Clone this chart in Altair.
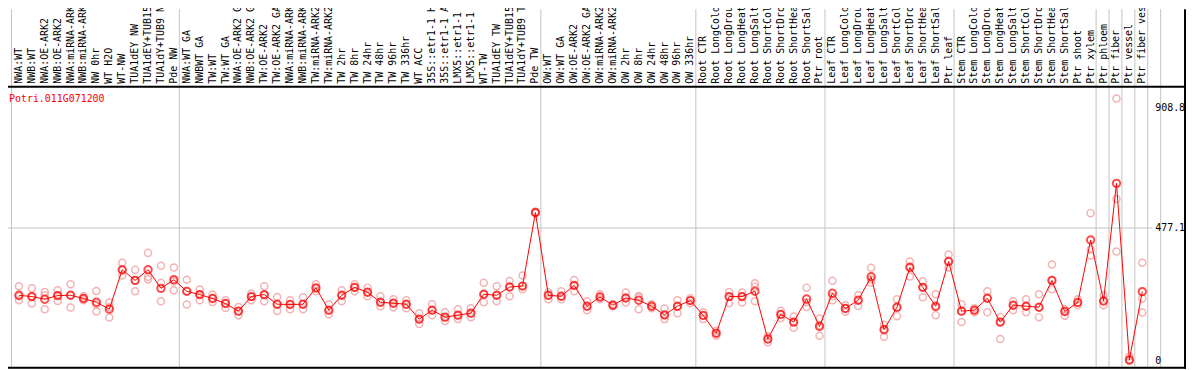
import altair as alt
import numpy as np
import pandas as pd

GENE = "Potri.011G071200"

LABELS = [
    "NWA:WT", "NWB:WT", "NWA:OE-ARK2", "NWB:OE-ARK2", "NWA:miRNA-ARK2", "NWB:miRNA-ARK2",
    "NW 0hr", "WT H2O", "WT-NW", "TUA1dEY NW", "TUA1dEY+TUB15 NW", "TUA1dY+TUB9 NW", "Pde NW",
    "NWA:WT GA", "NWBWT GA", "TW:WT", "TW:WT GA", "NWA:OE-ARK2 GA", "NWB:OE-ARK2 GA",
    "TW:OE-ARK2", "TW:OE-ARK2 GA", "NWA:miRNA-ARK2 GA", "NWB:miRNA-ARK2 GA", "TW:miRNA-ARK2",
    "TW:miRNA-ARK2 GA", "TW 2hr", "TW 8hr", "TW 24hr", "TW 48hr", "TW 96hr", "TW 336hr", "WT ACC",
    "35S::etr1-1 H2O", "35S::etr1-1 ACC", "LMX5::etr1-1 H2O", "LMX5::etr1-1 ACC", "WT-TW",
    "TUA1dEY TW", "TUA1dEY+TUB15 TW", "TUA1dY+TUB9 TW", "Pde TW",
    "OW:WT", "OW:WT GA", "OW:OE-ARK2", "OW:OE-ARK2 GA", "OW:miRNA-ARK2", "OW:miRNA-ARK2 GA",
    "OW 2hr", "OW 8hr", "OW 24hr", "OW 48hr", "OW 96hr", "OW 336hr",
    "Root CTR", "Root LongCold", "Root LongDrought", "Root LongHeat", "Root LongSalt",
    "Root ShortCold", "Root ShortDrought", "Root ShortHeat", "Root ShortSalt", "Ptr root",
    "Leaf CTR", "Leaf LongCold", "Leaf LongDrought", "Leaf LongHeat", "Leaf LongSalt",
    "Leaf ShortCold", "Leaf ShortDrought", "Leaf ShortHeat", "Leaf ShortSalt", "Ptr leaf",
    "Stem CTR", "Stem LongCold", "Stem LongDrought", "Stem LongHeat", "Stem LongSalt",
    "Stem ShortCold", "Stem ShortDrought", "Stem ShortHeat", "Stem ShortSalt", "Ptr shoot",
    "Ptr xylem", "Ptr phloem", "Ptr fiber", "Ptr vessel", "Ptr fiber vessel",
]

GROUP_SIZES = [13, 28, 12, 10, 10, 11, 1, 1, 1, 1, 1]

MEANS = [
    235.6, 230.9, 221.3, 234.5, 235.6, 223.8, 210.6, 185.6, 327.3, 289.1, 327.3, 260.5, 291.6,
    249.8, 238.1, 223.8, 205.9, 178.5, 230.9, 238.1, 203.4, 202.4, 203.4, 262.3, 182.0, 235.6,
    264.1, 246.3, 210.6, 207.0, 203.4, 149.9, 182.0, 157.0, 164.2, 171.3, 239.1, 235.6, 265.2,
    268.7, 532.9,
    235.6, 232.0, 271.2, 196.3, 229.5, 199.9, 225.9, 217.7, 196.3, 165.2, 196.3, 216.6,
    163.1, 98.9, 230.9, 230.9, 249.8, 78.5, 166.7, 139.2, 222.3, 123.8,
    242.7, 188.1, 217.7, 302.3, 111.7, 192.7, 335.5, 264.1, 196.3, 356.9,
    178.5, 182.0, 224.8, 139.2, 199.9, 196.3, 192.7, 289.1, 177.4, 209.5, 434.3,
    215.2, 637.8, 4.0, 248.8,
]

REP_A = [
    267.7, 260.5, 247.3, 253.4, 274.8, 232.0, 250.9, 209.5, 352.3, 327.3, 387.9, 341.6, 335.5,
    291.6, 255.9, 238.1, 217.7, 193.8, 241.6, 267.7, 229.5, 217.7, 228.4, 274.8, 203.4, 253.4,
    274.8, 263.0, 232.0, 221.3, 217.7, 171.3, 203.4, 174.9, 185.6, 189.2, 280.9, 267.7, 286.6,
    306.9, 536.0,
    246.3, 249.8, 290.2, 214.1, 239.1, 203.4, 245.2, 233.1, 203.4, 188.1, 217.7, 224.8,
    174.9, 107.1, 247.3, 245.2, 278.4, 88.2, 179.5, 159.5, 263.0, 152.4,
    288.0, 199.9, 235.6, 334.4, 129.6, 221.3, 356.9, 285.5, 239.1, 381.9,
    203.4, 189.2, 249.8, 157.0, 214.1, 221.3, 239.1, 346.2, 185.6, 221.3, 530.7,
    235.6, 942.2, 16.0, 352.3,
]

REP_B = [
    232.0, 232.0, 235.6, 235.6, 235.6, 224.8, 203.4, 192.7, 324.8, 289.1, 302.3, 280.9, 285.5,
    249.8, 239.1, 224.8, 207.0, 178.5, 230.9, 235.6, 203.4, 203.4, 203.4, 260.5, 182.0, 235.6,
    264.1, 246.3, 210.6, 207.0, 203.4, 149.9, 182.0, 157.0, 164.2, 171.3, 239.1, 235.6, 265.2,
    268.7, 533.0,
    235.6, 232.0, 271.2, 196.3, 229.5, 199.9, 225.9, 228.4, 196.3, 164.2, 196.3, 216.6,
    163.1, 98.9, 232.0, 232.0, 266.6, 78.5, 167.7, 139.2, 210.6, 128.5,
    232.0, 189.2, 217.7, 292.7, 114.2, 192.7, 339.1, 264.1, 192.7, 356.9,
    178.5, 182.0, 224.8, 139.2, 199.9, 196.3, 192.7, 289.1, 177.4, 209.5, 399.7,
    215.2, 581.7, 0.0, 223.8,
]

REP_C = [
    217.7, 205.9, 185.6, 215.2, 191.7, 217.7, 177.4, 156.0, 306.9, 249.8, 292.7, 214.1, 253.4,
    202.4, 217.7, 211.6, 190.2, 164.2, 217.7, 214.1, 179.5, 185.6, 185.6, 249.8, 167.7, 214.1,
    249.8, 232.0, 196.3, 192.7, 189.2, 132.1, 164.2, 142.8, 149.9, 157.0, 210.6, 214.1, 232.0,
    257.0, 530.0,
    221.3, 221.3, 249.8, 182.0, 221.3, 196.3, 209.5, 185.6, 189.2, 149.9, 171.3, 207.0,
    149.9, 90.3, 207.0, 209.5, 214.1, 66.7, 153.5, 118.8, 193.8, 90.3,
    217.7, 176.0, 197.4, 280.9, 86.7, 160.6, 303.4, 228.4, 164.2, 335.5,
    139.2, 174.9, 174.9, 78.5, 182.0, 174.9, 157.0, 257.0, 161.7, 199.9, 378.3,
    199.9, 392.6, 0.0, 173.8,
]

Y_TICKS = [0, 477.1, 908.8]
GRID_VALUE = 477.1

# ---------------- layout ----------------
FONT = "DejaVu Sans Mono"
PLOT_W, PLOT_H = 1152, 282
HEADER_H = 78
STEP, FIRST = 13.0, 11.0
X_DOMAIN = [-FIRST / STEP, (PLOT_W - FIRST) / STEP]
Y_DOMAIN = [-21.4, 985.0]

idx = list(range(len(LABELS)))
means_df = pd.DataFrame({"i": idx, "label": LABELS, "mean": MEANS})
reps_df = pd.DataFrame({"i": idx * 3, "value": REP_A + REP_B + REP_C})
bounds_df = pd.DataFrame({"b": [-0.5] + list(np.cumsum(GROUP_SIZES) - 0.5)})
ticks_df = pd.DataFrame({"v": Y_TICKS, "t": [f"{v:g}" for v in Y_TICKS]})
one = pd.DataFrame({"k": [0]})

xs = alt.Scale(domain=X_DOMAIN, nice=False, zero=False)
ys = alt.Scale(domain=Y_DOMAIN, nice=False, zero=False)

seps = alt.Chart(bounds_df).mark_rule(color="#c4c4c4", strokeWidth=1, xOffset=-1).encode(
    x=alt.X("b:Q", scale=xs, axis=None),
    y=alt.value(-HEADER_H),
    y2=alt.value(PLOT_H),
)

grid = alt.Chart(pd.DataFrame({"v": [GRID_VALUE]})).mark_rule(color="#c4c4c4", strokeWidth=1).encode(
    y=alt.Y("v:Q", scale=ys, axis=None),
)

reps = alt.Chart(reps_df).mark_point(
    shape="circle", filled=False, size=50, strokeWidth=1.5, color="#ef9494"
).encode(
    x=alt.X("i:Q", scale=xs, axis=None),
    y=alt.Y("value:Q", scale=ys, axis=None),
)

line = alt.Chart(means_df).mark_line(color="#ff0000", strokeWidth=1).encode(
    x=alt.X("i:Q", scale=xs, axis=None),
    y=alt.Y("mean:Q", scale=ys, axis=None),
)

means = alt.Chart(means_df).mark_point(
    shape="circle", filled=False, size=55, strokeWidth=2, color="#ff0000"
).encode(
    x=alt.X("i:Q", scale=xs, axis=None),
    y=alt.Y("mean:Q", scale=ys, axis=None),
)

tick_labels = alt.Chart(ticks_df).mark_text(
    align="left", baseline="middle", font=FONT, fontSize=10, color="black"
).encode(
    x=alt.value(PLOT_W + 3),
    y=alt.Y("v:Q", scale=ys, axis=None),
    text="t:N",
)

labels = alt.Chart(means_df).mark_text(
    angle=270, align="left", baseline="middle", font=FONT, fontSize=10, color="black"
).encode(
    x=alt.X("i:Q", scale=xs, axis=None),
    y=alt.value(-3),
    text="label:N",
)

title = alt.Chart(pd.DataFrame({"t": [GENE]})).mark_text(
    align="left", baseline="alphabetic", font=FONT, fontSize=10, color="#ff0000"
).encode(x=alt.value(1), y=alt.value(15), text="t:N")

top_line = alt.Chart(one).mark_rule(color="black", strokeWidth=2).encode(
    x=alt.value(0), x2=alt.value(PLOT_W + 34), y=alt.value(0)
)
bottom_line = alt.Chart(one).mark_rule(color="black", strokeWidth=2).encode(
    x=alt.value(0), x2=alt.value(PLOT_W + 34), y=alt.value(PLOT_H + 1)
)
right_line = alt.Chart(one).mark_rule(color="black", strokeWidth=2).encode(
    x=alt.value(PLOT_W + 33), y=alt.value(-HEADER_H), y2=alt.value(PLOT_H + 2)
)

chart = alt.layer(
    seps, grid, reps, line, means, tick_labels, labels, title, top_line, bottom_line, right_line
).properties(
    width=PLOT_W,
    height=PLOT_H,
    autosize=alt.AutoSizeParams(type="none"),
    padding={"left": 0, "top": HEADER_H, "right": 34, "bottom": 2},
    background="white",
).configure_view(stroke=None)

chart.save("out.html", embed_options={"renderer": "svg", "actions": False})
